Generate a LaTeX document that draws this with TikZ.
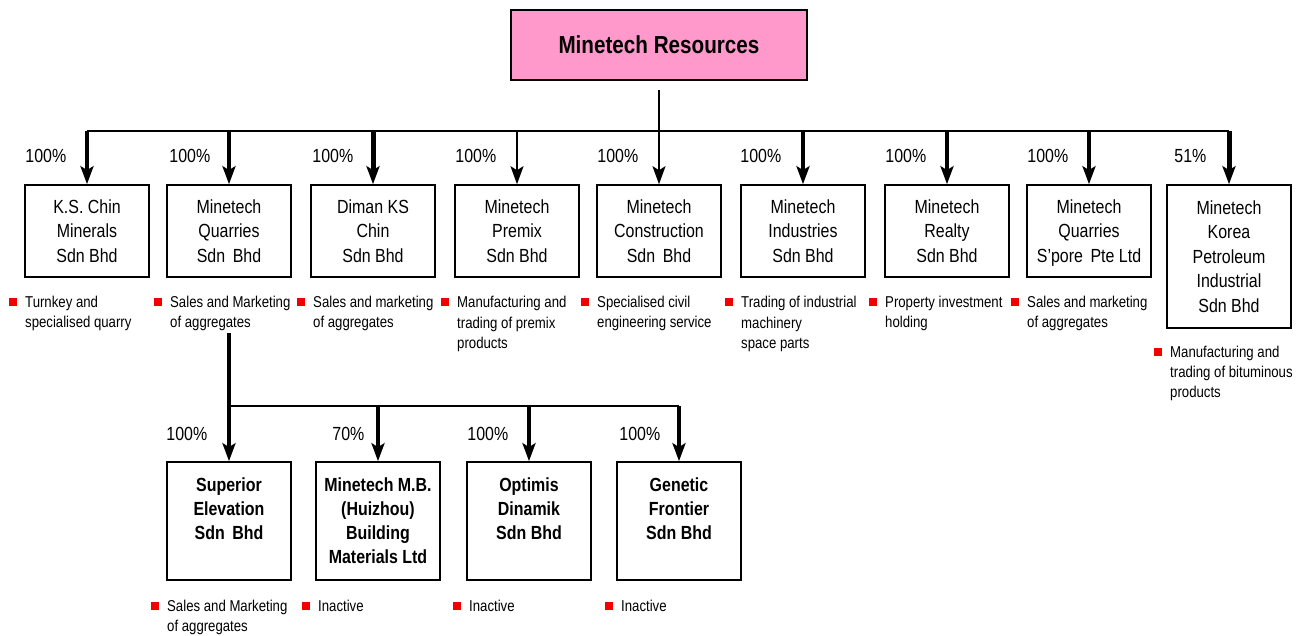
\documentclass[tikz,border=0pt]{standalone}
\usepackage{fontspec}
\setmainfont[FakeStretch=0.84]{Liberation Sans}
\usetikzlibrary{positioning,arrows.meta}
\definecolor{titlepink}{HTML}{FF99CC}
\definecolor{bulred}{HTML}{F00000}

\begin{document}
\begin{tikzpicture}[x=1pt,y=-1pt,>={Stealth[length=18pt,width=13pt,inset=4pt]},
  co/.style={draw,line width=1.6pt,minimum width=124pt,minimum height=92pt,align=center,inner sep=2pt,
    font=\fontsize{19}{24.5}\selectfont},
  subco/.style={co,minimum height=118pt,font=\bfseries\fontsize{19}{24}\selectfont},
  pct/.style={anchor=west,inner sep=0pt,font=\fontsize{19}{23}\selectfont},
  desc/.style={anchor=north west,align=left,inner sep=0pt,font=\fontsize{15.7}{20}\selectfont},
  bul/.style={fill=bulred,minimum size=7.5pt,inner sep=0pt},
  arr/.style={->,line width=4pt},
  arrthin/.style={->,line width=2pt},
  bus/.style={line width=2.5pt}]
\useasboundingbox (0,0) rectangle (1301,635);

% holding company
\node[draw,line width=1.6pt,fill=titlepink,minimum width=296pt,minimum height=70pt,font=\bfseries\fontsize{24.6}{28}\selectfont] (top) at (659,45) {Minetech Resources};

% first level
\node[co] (k1) at (87,231) {K.S. Chin\\Minerals\\Sdn Bhd};
\node[co] (k2) at (229,231) {Minetech\\Quarries\\Sdn~\,Bhd};
\node[co] (k3) at (373,231) {Diman KS\\Chin\\Sdn Bhd};
\node[co] (k4) at (517,231) {Minetech\\Premix\\Sdn Bhd};
\node[co] (k5) at (659,231) {Minetech\\Construction\\Sdn~\,Bhd};
\node[co] (k6) at (803,231) {Minetech\\Industries\\Sdn Bhd};
\node[co] (k7) at (947,231) {Minetech\\Realty\\Sdn Bhd};
\node[co] (k8) at (1089,231) {Minetech\\Quarries\\\raisebox{0pt}[\height][0pt]{S'pore~\,Pte Ltd}};
\node[co,minimum height=143pt] (k9) at (1229,256.5) {Minetech\\Korea\\Petroleum\\Industrial\\Sdn Bhd};

\coordinate (bus) at (0,131);
\draw[line width=2pt] ([yshift=-9pt]top.south) -- (top.south |- bus);
\draw[bus] (k1.north |- bus) -- (k9.north |- bus);
\draw[arr] (k1.north |- bus) -- (k1.north);
\draw[arr] (k2.north |- bus) -- (k2.north);
\draw[arr,line width=5pt] (k3.north |- bus) -- (k3.north);
\draw[arrthin] (k4.north |- bus) -- (k4.north);
\draw[arrthin] (k5.north |- bus) -- (k5.north);
\draw[arr,line width=3.5pt] (k6.north |- bus) -- (k6.north);
\draw[arr] (k7.north |- bus) -- (k7.north);
\draw[arr] (k8.north |- bus) -- (k8.north);
\draw[arr,line width=5pt] (k9.north |- bus) -- (k9.north);

\node[pct] (p1) at ([xshift=1pt,yshift=28pt]k1.north west) {100\%};
\node[pct] (p2) at ([xshift=3pt,yshift=28pt]k2.north west) {100\%};
\node[pct] (p3) at ([xshift=2pt,yshift=28pt]k3.north west) {100\%};
\node[pct] (p4) at ([xshift=1pt,yshift=28pt]k4.north west) {100\%};
\node[pct] (p5) at ([xshift=1pt,yshift=28pt]k5.north west) {100\%};
\node[pct] (p6) at ([xshift=0pt,yshift=28pt]k6.north west) {100\%};
\node[pct] (p7) at ([xshift=1pt,yshift=28pt]k7.north west) {100\%};
\node[pct] (p8) at ([xshift=1pt,yshift=28pt]k8.north west) {100\%};
\node[pct] (p9) at ([xshift=8pt,yshift=28pt]k9.north west) {51\%};

\node[desc] (d1) at (25,296) {Turnkey and\\specialised quarry};
\node[desc] (d2) at (170,296) {Sales and Marketing\\of aggregates};
\node[desc] (d3) at (313,296) {Sales and marketing\\of aggregates};
\node[desc,font=\fontsize{15.7}{20.5}\selectfont] (d4) at (457,296) {Manufacturing and\\trading of premix\\products};
\node[desc] (d5) at (597,296) {Specialised civil\\engineering service};
\node[desc,font=\fontsize{15.7}{20.5}\selectfont] (d6) at (741,296) {Trading of industrial\\machinery\\space parts};
\node[desc] (d7) at (885,296) {Property investment\\holding};
\node[desc] (d8) at (1027,296) {Sales and marketing\\of aggregates};
\node[desc] (d9) at (1170,346) {Manufacturing and\\trading of bituminous\\products};

\foreach \d in {d1,d2,d3,d4,d5,d6,d7,d8,d9}
  \node[bul,left=8pt of \d.north west,yshift=-6pt] (b\d) {};

% second level under Minetech Quarries
\node[subco] (s1) at (229,521) {Superior\\Elevation\\Sdn~\,Bhd\\~};
\node[subco] (s2) at (378,521) {Minetech M.B.\\(Huizhou)\\Building\\Materials Ltd};
\node[subco] (s3) at (529,521) {Optimis\\Dinamik\\Sdn Bhd\\~};
\node[subco] (s4) at (679,521) {Genetic\\Frontier\\Sdn Bhd\\~};

\coordinate (sub) at (229,333);
\coordinate (bus2) at (0,406);
\draw[line width=4pt] (sub) -- (s1.north |- bus2);
\draw[bus] (s1.north |- bus2) -- (s4.north |- bus2);
\draw[arr] (s1.north |- bus2) -- (s1.north);
\draw[arr] (s2.north |- bus2) -- (s2.north);
\draw[arr] (s3.north |- bus2) -- (s3.north);
\draw[arr,line width=3.5pt] (s4.north |- bus2) -- (s4.north);

\node[pct] (q1) at ([xshift=0pt,yshift=27pt]s1.north west) {100\%};
\node[pct] (q2) at ([xshift=17pt,yshift=27pt]s2.north west) {70\%};
\node[pct] (q3) at ([xshift=1pt,yshift=27pt]s3.north west) {100\%};
\node[pct] (q4) at ([xshift=3pt,yshift=27pt]s4.north west) {100\%};

\node[desc] (e1) at (167,600) {Sales and Marketing\\of aggregates};
\node[desc] (e2) at (318,600) {Inactive};
\node[desc] (e3) at (469,600) {Inactive};
\node[desc] (e4) at (621,600) {Inactive};

\foreach \e in {e1,e2,e3,e4}
  \node[bul,left=8pt of \e.north west,yshift=-6pt] (b\e) {};
\end{tikzpicture}
\end{document}
